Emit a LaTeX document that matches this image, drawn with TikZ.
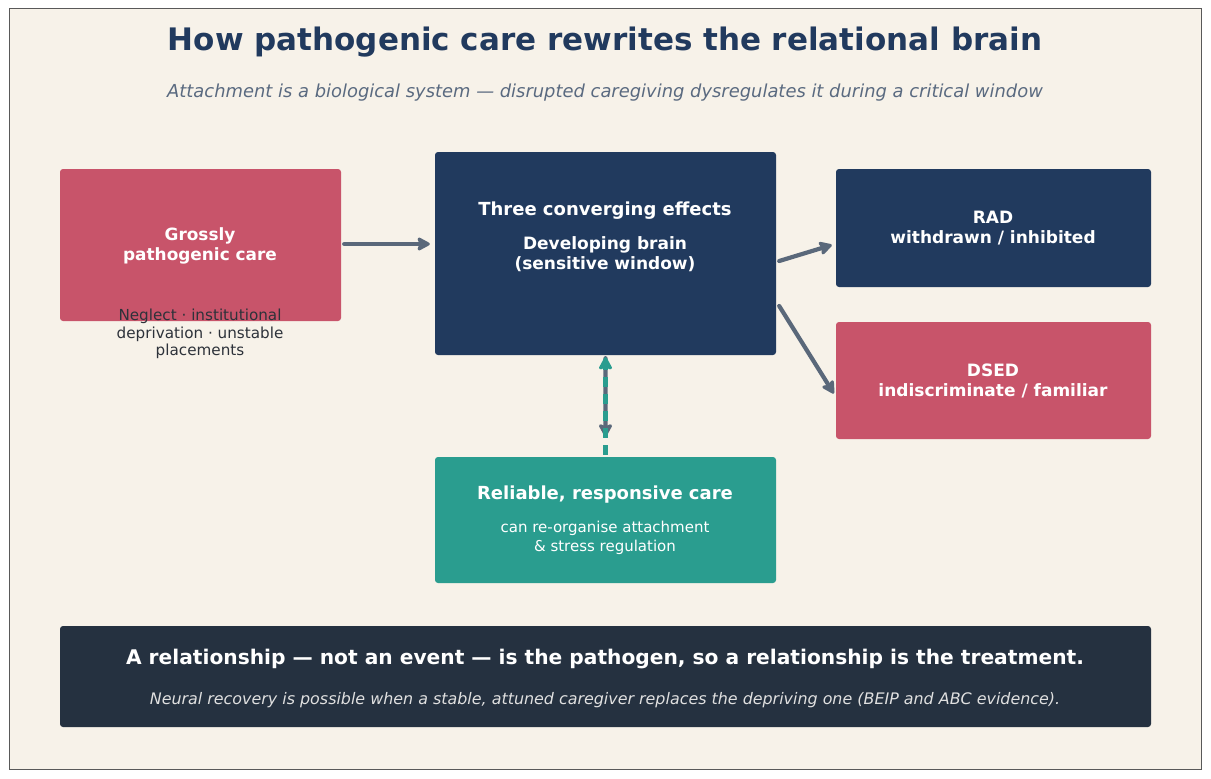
\documentclass[tikz,border=0pt]{standalone}
\usepackage{fontspec}
\setmainfont{DejaVu Sans}
\usetikzlibrary{arrows.meta,calc}
\definecolor{paper}{RGB}{247,242,233}
\definecolor{navy}{RGB}{33,58,94}
\definecolor{rose}{RGB}{200,84,106}
\definecolor{sea}{RGB}{42,157,143}
\definecolor{ink}{RGB}{37,49,64}
\definecolor{arrowgray}{RGB}{90,104,122}
\definecolor{subgray}{RGB}{90,106,128}
\definecolor{notegray}{RGB}{45,50,58}

\begin{document}
\begin{tikzpicture}[x=1pt,y=-1pt,
  box/.style={rounded corners=3pt,inner sep=0pt},
  head/.style={white,font=\bfseries\fontsize{17}{20}\selectfont,align=center},
  flow/.style={-{Stealth[length=15pt,width=16pt,inset=3pt,round]},line width=4.2pt,arrowgray,line cap=round}]
  \useasboundingbox (0,0) rectangle (1211,779);
  \fill[white] (0,0) rectangle (1211,779);
  \draw[fill=paper,draw=black!65,line width=0.8pt] (9,8) rectangle (1201,769);
  % title
  \node[navy,font=\bfseries\fontsize{31}{34}\selectfont] (title) at (605,42) {How pathogenic care rewrites the relational brain};
  \node[subgray,font=\itshape\fontsize{17.9}{20}\selectfont] (subtitle) at (605,93) {Attachment is a biological system — disrupted caregiving dysregulates it during a critical window};
  % boxes
  \node[box,fill=rose,minimum width=281pt,minimum height=152pt] (gross) at (200.5,245) {};
  \node[box,fill=navy,minimum width=341pt,minimum height=203pt] (brain) at (605.5,253.5) {};
  \node[box,fill=navy,minimum width=315pt,minimum height=118pt] (rad) at (993.5,228) {};
  \node[box,fill=rose,minimum width=315pt,minimum height=117pt] (dsed) at (993.5,380.5) {};
  \node[box,fill=sea,minimum width=341pt,minimum height=126pt] (care) at (605.5,520) {};
  \node[box,fill=ink,minimum width=1091pt,minimum height=101pt] (bottom) at (605.5,676.5) {};
  % texts
  \node[head,font=\bfseries\fontsize{16.9}{20}\selectfont] (grosstxt) at (200,246) {Grossly\\pathogenic care};
  \node[notegray,font=\fontsize{15.2}{17.5}\selectfont,align=center] (grossnote) at (200,334) {Neglect · institutional\\deprivation · unstable\\placements};
  \node[head,font=\bfseries\fontsize{18}{20}\selectfont] (braintitle) at (605,211) {Three converging effects};
  \node[head] (braintxt) at (605,254) {Developing brain\\(sensitive window)};
  \node[head] (radtxt) at (993,228) {RAD\\withdrawn / inhibited};
  \node[head] (dsedtxt) at (993,381) {DSED\\indiscriminate / familiar};
  \node[head,font=\bfseries\fontsize{18}{20}\selectfont] (caretitle) at (605,495) {Reliable, responsive care};
  \node[white,font=\fontsize{15}{18.5}\selectfont,align=center] (caretxt) at (605,538) {can re-organise attachment\\\& stress regulation};
  \node[white,font=\bfseries\fontsize{20.2}{22}\selectfont] (bottomtitle) at (605,659) {A relationship — not an event — is the pathogen, so a relationship is the treatment.};
  \node[black!12,font=\itshape\fontsize{15.9}{18}\selectfont] (bottomtxt) at (605,700) {Neural recovery is possible when a stable, attuned caregiver replaces the depriving one (BEIP and ABC evidence).};
  % connectors
  \coordinate (radin) at ($(rad.west)+(-4,17)$);
  \coordinate (dsedin) at ($(dsed.west)+(-2,13)$);
  \coordinate (brainout) at ($(care.north)!0.2!(brain.south)$);
  \draw[flow] ($(gross.east)+(3,-1)$) -- ($(brain.west)+(-5,-9.5)$);
  \draw[flow] ($(brain.east)+(3,7.5)$) -- (radin);
  \draw[flow] ($(brain.east)+(3,52.5)$) -- (dsedin);
  \draw[flow] ($(brain.south)+(0,3)$) -- (brainout);
  \draw[flow,sea,dash pattern=on 10pt off 7pt,line cap=butt] ($(care.north)+(0,-2)$) -- ($(brain.south)+(0,2)$);
\end{tikzpicture}
\end{document}
